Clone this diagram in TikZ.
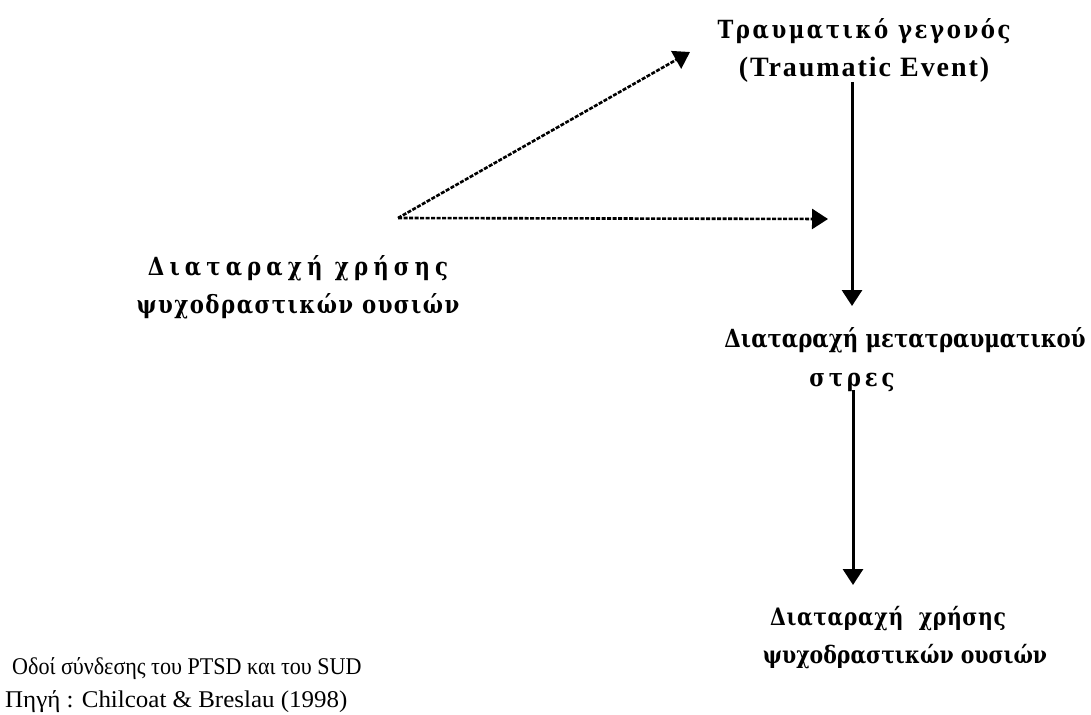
\documentclass[tikz,border=0pt]{standalone}
\usepackage{graphicx}
\usepackage{fontspec}
\setmainfont{Liberation Serif}
\newfontfamily\gkfam{DejaVu Serif}
\newcommand\gkline[4]{\scalebox{#4}[1]{\gkfam\bfseries\fontsize{#1}{#1}\selectfont\addfontfeature{LetterSpace=#2}#3}}
\newcommand\ltline[3]{{\rmfamily\bfseries\fontsize{#1}{#1}\selectfont\addfontfeature{LetterSpace=#2}#3}}
\newcommand\capline[3]{\scalebox{#2}[1]{\rmfamily\mdseries\fontsize{#1}{#1}\selectfont #3}}
\usetikzlibrary{arrows.meta}
\begin{document}
\begin{tikzpicture}[x=1pt,y=-1pt,
  lbl/.style={font=\bfseries\fontsize{26}{38}\selectfont, align=center, inner sep=0pt},
  captext/.style={font=\fontsize{24}{33}\selectfont, align=left, inner sep=0pt, anchor=west},
  solidarrow/.style={line width=3pt, -{Triangle[length=16pt,width=20pt]}},
  dasharrow/.style={line width=2.6pt, dash pattern=on 4pt off 1.5pt, -{Triangle[length=16pt,width=20pt]}}]
\useasboundingbox[fill=white] (0,0) rectangle (1091,714);

\node[lbl] (te) at (864,50) {\gkline{25}{12}{Τραυματικό γεγονός}{0.85}\\\ltline{28}{7}{(Traumatic Event)}};
\node[lbl] (sud1) at (298,287) {\gkline{25}{24}{Διαταραχή χρήσης}{0.85}\\\gkline{25}{7}{ψυχοδραστικών ουσιών}{0.85}};
\node[lbl] (ptsd1) at (905,340) {\gkline{25}{0}{Διαταραχή μετατραυματικού}{0.85}};
\node[lbl] (ptsd2) at (852,382) {\gkline{25}{18}{στρες}{0.85}};
\node[lbl] (sud2) at (905,638) {\hbox{\gkline{24}{3}{Διαταραχή\ \ χρήσης}{0.85}\kern34pt}\\\gkline{24}{0}{ψυχοδραστικών ουσιών}{0.85}};
\node[captext] (caption) at (5,685) {\hspace{7pt}\capline{24}{0.92}{Οδοί σύνδεσης του PTSD και του SUD}\\\capline{24}{1.04}{Πηγή : Chilcoat \& Breslau (1998)}};

\coordinate (src) at (398,218);
\coordinate (teIn) at (690,52);
\coordinate (ptIn) at (828,219);
\coordinate (v1s) at (852,82);
\coordinate (v1e) at (852,306);
\coordinate (v2s) at (853,390);
\coordinate (v2e) at (853,585);

\draw[dasharrow] (src) -- (teIn);
\draw[dasharrow] (src) -- (ptIn);
\draw[solidarrow] (v1s) -- (v1e);
\draw[solidarrow] (v2s) -- (v2e);
\end{tikzpicture}
\end{document}
